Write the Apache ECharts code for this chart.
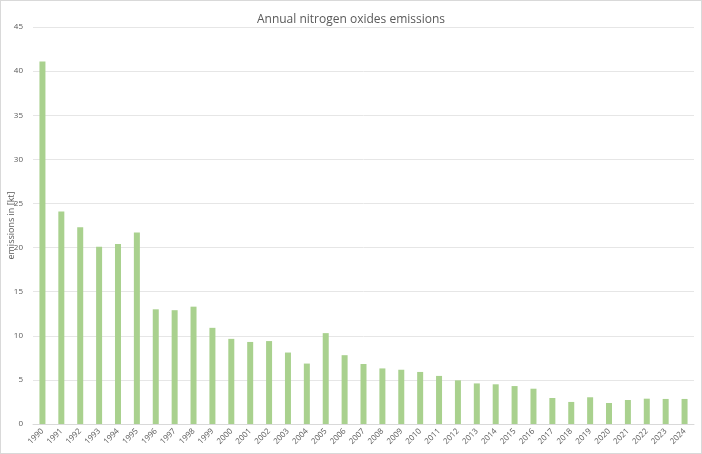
<!DOCTYPE html>
<html>
<head>
<meta charset="utf-8">
<script src="https://cdn.jsdelivr.net/npm/echarts@6/dist/echarts.min.js"></script>
<style>
	html, body { margin: 0; padding: 0; background: #fff; }
	#chart { width: 700px; height: 452px; border: 1px solid #d9d9d9; }
</style>
</head>
<body>
<div id="chart"></div>
<script>
	var years = ["1990", "1991", "1992", "1993", "1994", "1995", "1996", "1997", "1998", "1999",
		"2000", "2001", "2002", "2003", "2004", "2005", "2006", "2007", "2008", "2009",
		"2010", "2011", "2012", "2013", "2014", "2015", "2016", "2017", "2018", "2019",
		"2020", "2021", "2022", "2023", "2024"];

	var emissions = [41.1, 24.1, 22.3, 20.1, 20.4, 21.7, 13.0, 12.9, 13.3, 10.9,
		9.65, 9.3, 9.4, 8.1, 6.85, 10.3, 7.8, 6.8, 6.3, 6.15,
		5.9, 5.45, 4.95, 4.6, 4.5, 4.3, 4.0, 2.95, 2.5, 3.03,
		2.38, 2.72, 2.87, 2.84, 2.84];

	var yTicks = [0, 5, 10, 15, 20, 25, 30, 35, 40, 45];

	var chart = echarts.init(document.getElementById("chart"));

	chart.setOption({
		animation: false,
		textStyle: {
			fontFamily: "Open Sans"
		},
		title: {
			text: "Annual nitrogen oxides emissions",
			left: "center",
			top: 8,
			textStyle: {
				color: "#595959",
				fontSize: 12,
				fontWeight: "normal"
			}
		},
		grid: {
			left: 32,
			right: 7,
			top: 26,
			bottom: 29,
			containLabel: false,
			outerBoundsMode: "none"
		},
		xAxis: {
			type: "category",
			data: years,
			axisTick: { show: false },
			axisLine: { lineStyle: { color: "#d9d9d9" } },
			axisLabel: {
				rotate: 45,
				color: "#595959",
				fontSize: 8,
				interval: 0,
				margin: 6
			}
		},
		yAxis: {
			type: "value",
			min: yTicks[0],
			max: yTicks[yTicks.length - 1],
			interval: 5,
			name: "emissions in [kt]",
			nameLocation: "middle",
			nameGap: 17,
			nameMoveOverlap: false,
			nameTextStyle: {
				color: "#595959",
				fontSize: 9
			},
			axisLabel: {
				color: "#595959",
				fontSize: 8,
				margin: 10
			},
			splitLine: { lineStyle: { color: "#e6e6e6" } }
		},
		series: [{
			type: "bar",
			data: emissions,
			barWidth: 6,
			itemStyle: {
				color: "#a9d18e"
			}
		}]
	});
</script>
</body>
</html>
